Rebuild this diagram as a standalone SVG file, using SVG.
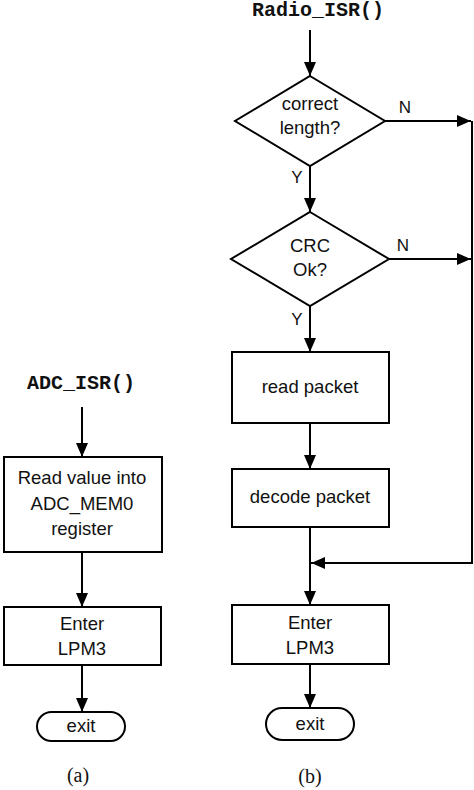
<svg xmlns="http://www.w3.org/2000/svg" width="474" height="790" viewBox="0 0 474 790">
<defs>
<marker id="ah" markerWidth="12" markerHeight="14" refX="14" refY="6" orient="auto" markerUnits="userSpaceOnUse">
<path d="M0,0 L14,6 L0,12 Z" fill="#000"/>
</marker>
<style>
.n{fill:#fff;stroke:#000;stroke-width:2}
.t{font-family:"Liberation Sans",Arial,sans-serif;font-size:18.5px;fill:#111;text-anchor:middle}
.m{font-family:"Liberation Mono","Courier New",monospace;font-weight:bold;font-size:20px;fill:#111}
.c{font-family:"Liberation Serif","Times New Roman",serif;font-size:20px;fill:#111;text-anchor:middle}
.l{fill:none;stroke:#000;stroke-width:2}
</style>
</defs>
<rect width="474" height="790" fill="#fff"/>

<g id="connectors">
<line class="l" x1="310" y1="30" x2="310" y2="76" marker-end="url(#ah)"/>
<line class="l" x1="310" y1="166" x2="310" y2="212" marker-end="url(#ah)"/>
<line class="l" x1="310" y1="306" x2="310" y2="352" marker-end="url(#ah)"/>
<line class="l" x1="310" y1="423" x2="310" y2="469" marker-end="url(#ah)"/>
<line class="l" x1="310" y1="527" x2="310" y2="605" marker-end="url(#ah)"/>
<line class="l" x1="310" y1="664" x2="310" y2="708" marker-end="url(#ah)"/>
<line class="l" x1="385" y1="121" x2="471" y2="121" marker-end="url(#ah)"/>
<line class="l" x1="389" y1="259" x2="471" y2="259" marker-end="url(#ah)"/>
<polyline class="l" points="472,121 472,563 311,563" marker-end="url(#ah)"/>
<line class="l" x1="82" y1="407" x2="82" y2="457" marker-end="url(#ah)"/>
<line class="l" x1="82" y1="552" x2="82" y2="607" marker-end="url(#ah)"/>
<line class="l" x1="82" y1="665" x2="82" y2="712" marker-end="url(#ah)"/>
<text class="t" x="405" y="113" style="font-size:17px">N</text>
<text class="t" x="403" y="251" style="font-size:17px">N</text>
<text class="t" x="297" y="183" style="font-size:17px">Y</text>
<text class="t" x="297" y="325" style="font-size:17px">Y</text>
</g>

<g id="radio_isr"><text class="m" x="252" y="16">Radio_ISR()</text></g>
<g id="correct_length">
<polygon class="n" points="310,76 385,121 310,166 235,121"/>
<text class="t" x="310" y="110">correct</text>
<text class="t" x="310" y="134">length?</text>
</g>
<g id="crc_ok">
<polygon class="n" points="310,212 389,259 310,306 231,259"/>
<text class="t" x="310" y="252">CRC</text>
<text class="t" x="310" y="276">Ok?</text>
</g>
<g id="read_packet">
<rect class="n" x="232" y="352" width="157" height="71"/>
<text class="t" x="310" y="393">read packet</text>
</g>
<g id="decode_packet">
<rect class="n" x="232" y="469" width="157" height="58"/>
<text class="t" x="310" y="503">decode packet</text>
</g>
<g id="enter_lpm3_b">
<rect class="n" x="232" y="605" width="157" height="59"/>
<text class="t" x="310" y="629">Enter</text>
<text class="t" x="310" y="654">LPM3</text>
</g>
<g id="exit_b">
<rect class="n" x="266" y="708" width="88" height="32" rx="16"/>
<text class="t" x="310" y="730">exit</text>
</g>
<g id="label_b"><text class="c" x="310" y="783">(b)</text></g>

<g id="adc_isr"><text class="m" x="27" y="389">ADC_ISR()</text></g>
<g id="read_value">
<rect class="n" x="4" y="457" width="158" height="95"/>
<text class="t" x="82" y="484">Read value into</text>
<text class="t" x="82" y="510">ADC_MEM0</text>
<text class="t" x="82" y="535">register</text>
</g>
<g id="enter_lpm3_a">
<rect class="n" x="4" y="607" width="157" height="58"/>
<text class="t" x="82" y="630">Enter</text>
<text class="t" x="82" y="655">LPM3</text>
</g>
<g id="exit_a">
<rect class="n" x="37" y="712" width="88" height="29" rx="14.5"/>
<text class="t" x="81" y="732">exit</text>
</g>
<g id="label_a"><text class="c" x="78" y="782">(a)</text></g>
</svg>
